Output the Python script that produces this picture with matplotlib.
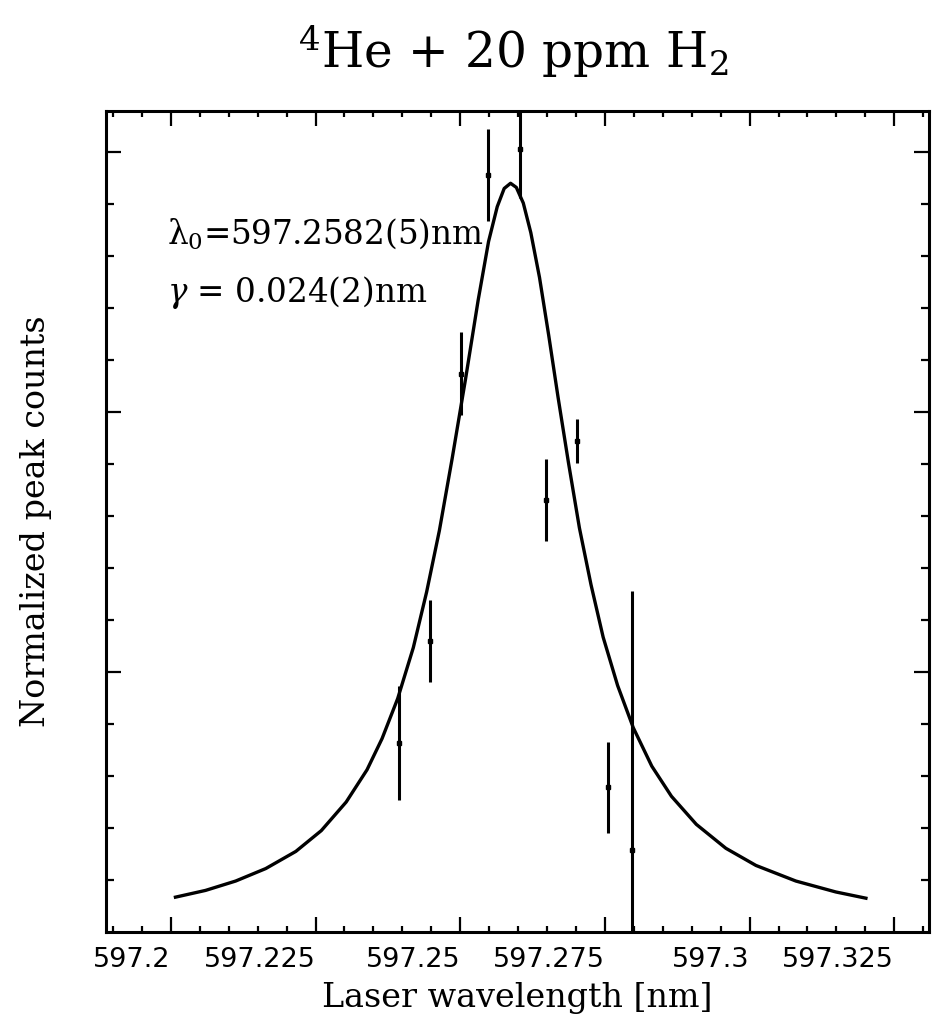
import numpy as np
import matplotlib
matplotlib.use("Agg")
import matplotlib.pyplot as plt

plt.rcParams["mathtext.fontset"] = "dejavuserif"

# measured points (wavelength in nm, normalized counts, half error bar)
wl = [597.2394, 597.2447, 597.2501, 597.2548, 597.2603,
      597.2648, 597.2702, 597.2755, 597.2797]
counts = [0.364, 0.560, 1.074, 1.456, 1.505, 0.831, 0.944, 0.278, 0.158]
err = [0.110, 0.079, 0.079, 0.088, 0.094, 0.079, 0.042, 0.088, 0.498]

# fitted lorentzian
fit_wl = [597.2008, 597.2060, 597.2112, 597.2164, 597.2216, 597.2260,
          597.2303, 597.2339, 597.2365, 597.2392, 597.2419, 597.2442,
          597.2464, 597.2486, 597.2509, 597.2531, 597.2549, 597.2564,
          597.2576, 597.2587, 597.2597, 597.2609, 597.2622, 597.2637,
          597.2653, 597.2669, 597.2687, 597.2706, 597.2726, 597.2747,
          597.2772, 597.2799, 597.2831, 597.2865, 597.2908, 597.2959,
          597.3011, 597.3080, 597.3149, 597.3201]
fit_counts = [0.067, 0.080, 0.098, 0.122, 0.155, 0.195,
              0.250, 0.312, 0.372, 0.449, 0.547, 0.654,
              0.772, 0.910, 1.062, 1.215, 1.328, 1.395,
              1.430, 1.440, 1.432, 1.402, 1.345, 1.259,
              1.147, 1.029, 0.903, 0.777, 0.668, 0.567,
              0.474, 0.393, 0.319, 0.261, 0.207, 0.161,
              0.128, 0.098, 0.077, 0.065]

xtick_vals = [597.2, 597.225, 597.25, 597.275, 597.3, 597.325]
xtick_labels = ["597.2", "597.225", "597.25", "597.275", "597.3", "597.325"]

fig = plt.figure(figsize=(9.32, 10.17), dpi=100)
ax = fig.add_axes([106 / 932, 1 - 932 / 1017, 823 / 932, 821 / 1017])

ax.plot(fit_wl, fit_counts, color="k", lw=2.4, solid_joinstyle="round")
ax.errorbar(wl, counts, yerr=err, fmt="s", ms=3, color="k",
            elinewidth=2.2, capsize=0)

ax.set_xlim(597.1888, 597.3310)
ax.set_ylim(0, 1.579)

ax.set_xticks(xtick_vals)
ax.set_xticklabels(xtick_labels, ha="right", fontsize=19.5,
                   family="DejaVu Sans")
ax.set_xticks(np.arange(597.19, 597.331, 0.005), minor=True)
ax.set_yticks([0.5, 1.0, 1.5])
ax.set_yticks(np.arange(0.1, 1.55, 0.1), minor=True)
ax.set_yticklabels([])

ax.tick_params(which="both", direction="in", top=True, right=True,
               width=1.6, pad=11)
ax.tick_params(which="major", length=11)
ax.tick_params(axis="x", which="minor", length=4.5)
ax.tick_params(axis="y", which="minor", length=6)
for s in ax.spines.values():
    s.set_linewidth(2.2)

ax.set_xlabel("Laser wavelength [nm]", family="DejaVu Serif",
              fontsize=24, labelpad=6)
ax.set_ylabel("Normalized peak counts", family="DejaVu Serif",
              fontsize=24, labelpad=28)

ax.text(0.074, 0.839, "λ$_0$=597.2582(5)nm", transform=ax.transAxes,
        family="DejaVu Serif", fontsize=23.5, va="baseline")
ax.text(0.074, 0.767, r"$\gamma$ = 0.024(2)nm", transform=ax.transAxes,
        family="DejaVu Serif", fontsize=23.5, va="baseline")

fig.text(513 / 932, 1 - 68 / 1017, r"$^4$He + 20 ppm H$_2$", ha="center",
         va="baseline", family="DejaVu Serif", fontsize=35)

fig.savefig("out.png", dpi=100)
